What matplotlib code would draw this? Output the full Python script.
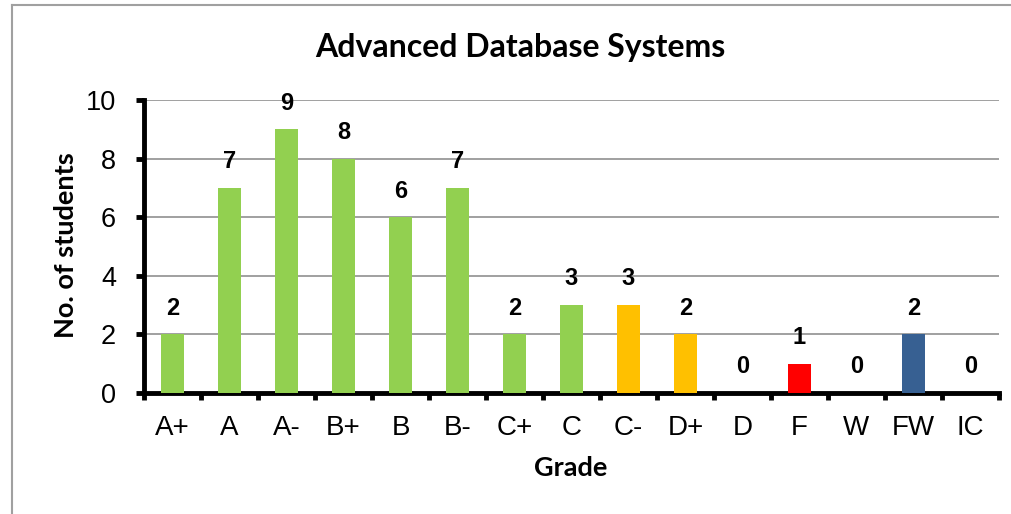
import matplotlib
matplotlib.use("Agg")
import matplotlib.pyplot as plt
from matplotlib.lines import Line2D

grades = ["A+", "A", "A-", "B+", "B", "B-", "C+", "C", "C-", "D+", "D", "F", "W", "FW", "IC"]
counts = [2, 7, 9, 8, 6, 7, 2, 3, 3, 2, 0, 1, 0, 2, 0]
colors = ["#92D050"] * 8 + ["#FFC000", "#FFC000", "#FFC000", "#FF0000", "#FF0000", "#376092", "#376092"]
yticks = [0, 2, 4, 6, 8, 10]

fig = plt.figure(figsize=(10.12, 5.14), dpi=100)
ax = fig.add_axes([144/1012, 1-393/514, (999-144)/1012, (393-100)/514])

x = list(range(len(grades)))
ax.bar(x, counts, width=0.39, color=colors, zorder=3)
for xi, c in zip(x, counts):
    ax.text(xi, c + 0.5, str(c), ha="center", va="bottom", fontsize=17,
            fontweight="bold", family="Liberation Sans", zorder=4)

ax.set_xlim(-0.5, len(grades) - 0.5)
ax.set_ylim(0, 10)
ax.set_yticks(yticks)
ax.set_yticklabels([str(t) for t in yticks], family="Liberation Sans", fontsize=19.5)
ax.set_xticks(x)
ax.set_xticklabels(grades, family="Liberation Sans", fontsize=20)
ax.set_xticks([i - 0.5 for i in range(len(grades) + 1)], minor=True)
ax.tick_params(axis="x", which="major", length=0, pad=16)
ax.tick_params(axis="x", which="minor", length=5, width=3.5, direction="out")
ax.tick_params(axis="y", length=6, width=3.5, direction="out", pad=14)

ax.yaxis.grid(True, color="#999999", linewidth=1.3, zorder=0)
ax.set_axisbelow(True)
for s in ["top", "right"]:
    ax.spines[s].set_visible(False)
for s in ["left", "bottom"]:
    ax.spines[s].set_linewidth(3.5)
    ax.spines[s].set_color("black")

fig.text(520/1012, 1-47/514, "Advanced Database Systems", ha="center", va="center",
         fontsize=23, fontweight="bold", family="Lato")
fig.text(66/1012, 1-245/514, "No. of students", ha="center", va="center", rotation=90,
         fontsize=19.5, fontweight="bold", family="Lato")
fig.text(571/1012, 1-468/514, "Grade", ha="center", va="center",
         fontsize=19.5, fontweight="bold", family="Lato")

fig.add_artist(Line2D([12/1012, 1], [1-5/514, 1-5/514], transform=fig.transFigure, color="#A0A0A0", linewidth=1.5))
fig.add_artist(Line2D([12/1012, 12/1012], [0, 1-5/514], transform=fig.transFigure, color="#A0A0A0", linewidth=1.5))

fig.savefig("out.png", dpi=100)
